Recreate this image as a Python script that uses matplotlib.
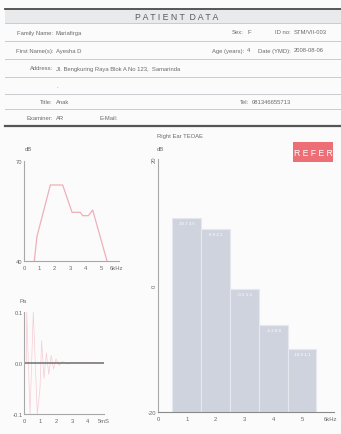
import matplotlib
matplotlib.use("Agg")
import matplotlib.pyplot as plt
from matplotlib.patches import Rectangle

plt.rcParams['font.family'] = ['Liberation Sans Narrow', 'Liberation Sans', 'DejaVu Sans']

W, H = 341, 435
TXT = '#6a6a6a'
GRID = '#c9cbcf'
AXC = '#a8a8a8'

# ---- patient table ----
row_labels_left = ['Family Name:', 'First Name(s):', 'Address:', '', 'Title:', 'Examiner:']
row_values_left = ['Mariafirga', 'Ayesha D', 'Jl. Bengkuring Raya Blok A No 123,  Samarinda', '.', 'Anak', 'AR']
row_labels_mid = ['Sex:', 'Age (years):', '', '', 'Tel:', 'E-Mail:']
row_values_mid = ['F', '4', '', '', '081346655713', '']
row_labels_right = ['ID no:', 'Date (YMD):', '', '', '', '']
row_values_right = ['STM/VII-003', '2008-08-06', '', '', '', '']

# ---- response curve (top left) ----
resp_khz = [0.67, 0.84, 1.71, 2.51, 3.12, 3.66, 3.81, 4.18, 4.46, 5.39]
resp_db = [40, 47.3, 62.8, 62.8, 54.6, 54.6, 53.6, 53.6, 55.3, 40]

# ---- stimulus waveform (bottom left) ----
wave_ms = [0.0, 0.15, 0.17, 0.375, 0.58, 0.83, 1.0, 1.1, 1.25, 1.4, 1.55, 1.7,
           1.85, 2.0, 2.2, 2.4, 2.7, 3.0, 5.0]
wave_pa = [0.0, 0.0, 0.1, -0.1, 0.1, -0.1, -0.05, 0.044, -0.03, 0.02, -0.022, 0.015,
           -0.012, 0.008, -0.005, 0.003, -0.002, 0.001, 0.0]

# ---- TEOAE band levels (right) ----
band_khz = [1, 2, 3, 4, 5]
band_db = [10.7, 8.9, -0.5, -6.2, -10.0]
band_txt = ['10.7 3.5', '8.9 2.1', '-0.5 1.3', '-6.2 0.8', '-10.0 1.1']


def px_axes(fig, left, top, right, bottom):
    return fig.add_axes([left / W, 1 - bottom / H, (right - left) / W, (bottom - top) / H])


fig = plt.figure(figsize=(W / 100, H / 100), dpi=100)
fig.patch.set_facecolor('#fbfbfc')

bg = fig.add_axes([0, 0, 1, 1])
bg.set_xlim(0, W)
bg.set_ylim(H, 0)
bg.axis('off')

# header band
bg.add_patch(Rectangle((5, 10), W - 5, 14, facecolor='#e8eaec', edgecolor='none'))
bg.plot([5, W], [10, 10], color='#4a4a4a', lw=1.3)
bg.text(177, 17, 'P A T I E N T  D A T A', ha='center', va='center', fontsize=6.3, color='#5a5a5a')

row_lines = [24, 42, 60, 78, 95, 110]
for y in row_lines:
    bg.plot([5, W], [y, y], color=GRID, lw=0.7)
bg.plot([5, W], [127, 127], color='#555555', lw=1.6)

mid_x = {'Sex:': 244, 'Age (years):': 244, 'Tel:': 249, 'E-Mail:': 118}
row_y = [33, 51, 69, 87, 102.5, 118.5]
for i, y in enumerate(row_y):
    bg.text(53, y, row_labels_left[i], ha='right', va='center', fontsize=4.2, color=TXT)
    bg.text(56, y, row_values_left[i], ha='left', va='center', fontsize=4.2, color=TXT)
    if row_labels_mid[i]:
        x_lab = mid_x[row_labels_mid[i]]
        bg.text(x_lab, y, row_labels_mid[i], ha='right', va='center', fontsize=4.2, color=TXT)
        bg.text(x_lab + 3, y, row_values_mid[i], ha='left', va='center', fontsize=4.2, color=TXT)
    if row_labels_right[i]:
        bg.text(291, y, row_labels_right[i], ha='right', va='center', fontsize=4.2, color=TXT)
        bg.text(294, y, row_values_right[i], ha='left', va='center', fontsize=4.2, color=TXT)

# axis captions in page coordinates
bg.text(28, 150, 'dB', ha='center', va='center', fontsize=4.2, color=TXT)
bg.text(23, 302, 'Pa', ha='center', va='center', fontsize=4.2, color=TXT)
bg.text(157, 137, 'Right Ear TEOAE', ha='left', va='center', fontsize=4.2, color=TXT)
bg.text(160, 150, 'dB', ha='center', va='center', fontsize=4.2, color=TXT)

# REFER badge
bg.add_patch(Rectangle((293, 143), 40, 20, facecolor='#ee6e76', edgecolor='none'))
bg.text(313, 153.5, 'R E F E R', ha='center', va='center', fontsize=6.2, color='white')


def style(ax):
    ax.set_facecolor('none')
    for s in ['top', 'right']:
        ax.spines[s].set_visible(False)
    for s in ['left', 'bottom']:
        ax.spines[s].set_color(AXC)
        ax.spines[s].set_linewidth(0.8)
    ax.tick_params(length=0, labelsize=4.2, labelcolor=TXT, pad=3)


# top left: response curve
ax1 = px_axes(fig, 24, 162, 24 + 6.2 * 15.4, 262)
style(ax1)
ax1.plot(resp_khz, resp_db, color='#eeb0b8', lw=0.9)
ax1.set_xlim(0, 6.2)
ax1.set_ylim(40, 70)
ax1.set_xticks(range(7))
ax1.set_xticklabels(['0', '1', '2', '3', '4', '5', '6kHz'])
ax1.set_yticks([40, 70])
ax1.set_yticklabels(['40', '70'])
ax1.tick_params(axis='y', pad=1)

# bottom left: waveform
ax2 = px_axes(fig, 24, 313, 24 + 5 * 16, 415)
style(ax2)
ax2.plot(wave_ms, wave_pa, color='#f6cdd3', lw=0.5)
ax2.plot([wave_ms[0], wave_ms[-1]], [0, 0], color='#6f6f6f', lw=1.1)
ax2.set_xlim(0, 5)
ax2.set_ylim(-0.1, 0.1)
ax2.set_xticks(range(6))
ax2.set_xticklabels(['0', '1', '2', '3', '4', '5mS'])
ax2.set_yticks([-0.1, 0.0, 0.1])
ax2.set_yticklabels(['-0.1', '0.0', '0.1'])
ax2.tick_params(axis='y', pad=1)

# right: TEOAE bands
ax3 = px_axes(fig, 158, 160, 158 + 6.1 * 28.8, 413)
style(ax3)
ax3.spines['bottom'].set_color('#8a8a8a')
bottom = -20
ax3.bar(band_khz, [v - bottom for v in band_db], bottom=bottom, width=1.0,
        color='#cfd3de', edgecolor='#e6e8ef', linewidth=0.8, zorder=2)
for x, v, t in zip(band_khz, band_db, band_txt):
    ax3.text(x, v - 0.5, t, ha='center', va='top', fontsize=3.2, color='white', zorder=3)
ax3.set_xlim(0, 6.1)
ax3.set_ylim(-20, 20)
ax3.set_xticks(range(7))
ax3.set_xticklabels(['0', '1', '2', '3', '4', '5', '6kHz'])
ax3.set_yticks([-20, 0, 20])
ax3.set_yticklabels(['-20', '0', '20'])
for lab in ax3.get_yticklabels()[1:]:
    lab.set_rotation(90)
    lab.set_va('center')
ax3.tick_params(axis='y', pad=1)

fig.savefig('out.png', dpi=100)
